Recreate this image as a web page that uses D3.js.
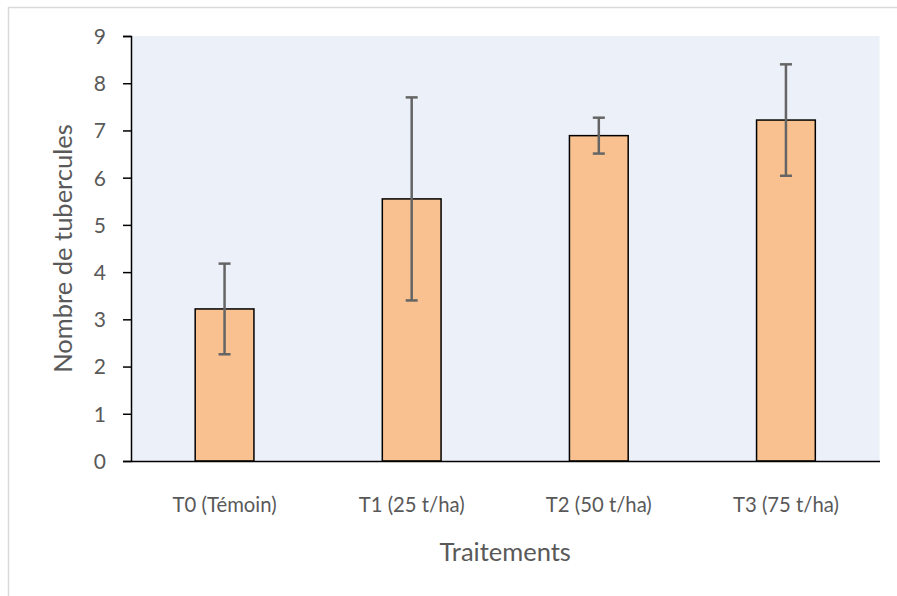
<!DOCTYPE html>
<html><head><meta charset="utf-8">
<script src="https://cdn.jsdelivr.net/npm/d3@7/dist/d3.min.js"></script>
<style>body{margin:0;background:#fff;}svg{display:block;}</style>
</head><body>
<svg id="c" width="897" height="596"></svg>
<script>
const categories = ["T0 (Témoin)", "T1 (25 t/ha)", "T2 (50 t/ha)", "T3 (75 t/ha)"];
const means = [3.22, 5.55, 6.89, 7.22];
const errors = [0.96, 2.15, 0.38, 1.18];
const yTicks = [0,1,2,3,4,5,6,7,8,9];

const svg = d3.select("#c");
const font = "Lato, sans-serif";
const M = {l:131, r:879.5, t:36, b:461};

svg.append("rect").attr("x",8.5).attr("y",7.5).attr("width",900).attr("height",600)
  .attr("fill","#fff").attr("stroke","#d9d9d9").attr("stroke-width",1.5);

const x = d3.scaleBand().domain(categories).range([M.l, M.r]).paddingInner(0.686).paddingOuter(0.343);
const y = d3.scaleLinear().domain([0,9]).range([M.b, M.t]);

svg.append("rect").attr("x",M.l).attr("y",M.t).attr("width",M.r-M.l).attr("height",M.b-M.t).attr("fill","#ECF0F8");

svg.selectAll("rect.bar").data(means).join("rect").attr("class","bar")
  .attr("x",(d,i)=>x(categories[i])).attr("y",d=>y(d))
  .attr("width",x.bandwidth()).attr("height",d=>M.b-y(d))
  .attr("fill","#F9C18F").attr("stroke","#000").attr("stroke-width",1.5);

const eg = svg.append("g").attr("stroke","#656565").attr("stroke-width",2.5);
means.forEach((m,i)=>{
  const cx = x(categories[i]) + x.bandwidth()/2;
  eg.append("line").attr("x1",cx).attr("x2",cx).attr("y1",y(m+errors[i])).attr("y2",y(m-errors[i]));
  [m+errors[i], m-errors[i]].forEach(v=>{
    eg.append("line").attr("x1",cx-6).attr("x2",cx+6).attr("y1",y(v)).attr("y2",y(v));
  });
});

// y axis
const ya = svg.append("g").attr("transform",`translate(${M.l},0)`)
  .call(d3.axisLeft(y).tickValues(yTicks).tickSize(8).tickPadding(17).tickFormat(d3.format("d")));
ya.select(".domain").attr("stroke","#000").attr("stroke-width",1.5);
ya.selectAll(".tick line").attr("stroke","#000").attr("stroke-width",1.5);
ya.selectAll("text").attr("font-family",font).attr("font-size",21).attr("fill","#595959").attr("dy","0.35em");

// x axis
const xa = svg.append("g").attr("transform",`translate(0,${M.b})`)
  .call(d3.axisBottom(x).tickSize(0));
xa.select(".domain").attr("stroke","#000").attr("stroke-width",1.5);
xa.selectAll("text").attr("font-family",font).attr("font-size",20.3).attr("fill","#595959")
  .attr("y",51).attr("dy",0);

svg.append("text").attr("x",(M.l+M.r)/2).attr("y",561).attr("text-anchor","middle")
  .attr("font-family",font).attr("font-size",25.5).attr("fill","#595959").text("Traitements");
svg.append("text").attr("transform",`translate(72,${(M.t+M.b)/2}) rotate(-90)`).attr("text-anchor","middle")
  .attr("font-family",font).attr("font-size",25.5).attr("fill","#595959").text("Nombre de tubercules");
</script>
</body></html>
